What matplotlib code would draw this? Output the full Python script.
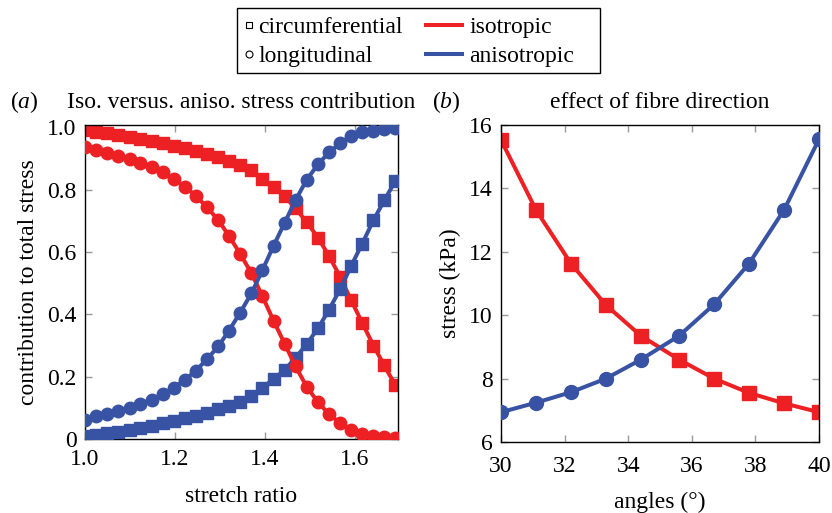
import matplotlib
matplotlib.use('Agg')
import matplotlib.pyplot as plt
from matplotlib.lines import Line2D
from matplotlib.patches import Rectangle
from matplotlib.ticker import FuncFormatter

plt.rcParams['font.family'] = ['Liberation Serif', 'DejaVu Serif']
plt.rcParams['font.size'] = 17
plt.rcParams['axes.titlesize'] = 17
plt.rcParams['mathtext.fontset'] = 'custom'
plt.rcParams['mathtext.rm'] = 'Liberation Serif'
plt.rcParams['mathtext.it'] = 'Liberation Serif:italic'

RED = '#ed2024'
BLUE = '#3953a4'

# (a) stress contribution vs stretch ratio
stretch = [1.000, 1.025, 1.049, 1.074, 1.099, 1.123, 1.148, 1.173, 1.197, 1.222,
           1.246, 1.271, 1.296, 1.320, 1.345, 1.370, 1.394, 1.419, 1.444, 1.468,
           1.493, 1.518, 1.542, 1.567, 1.591, 1.616, 1.641, 1.665, 1.690]
iso_circ = [0.991, 0.987, 0.982, 0.976, 0.970, 0.964, 0.957, 0.950, 0.942, 0.934,
            0.925, 0.915, 0.905, 0.893, 0.880, 0.863, 0.836, 0.809, 0.779, 0.740,
            0.696, 0.646, 0.588, 0.521, 0.447, 0.373, 0.300, 0.236, 0.172]
aniso_circ = [0.009, 0.013, 0.018, 0.024, 0.030, 0.036, 0.043, 0.050, 0.058, 0.066,
              0.075, 0.085, 0.095, 0.107, 0.120, 0.138, 0.165, 0.192, 0.222, 0.261,
              0.305, 0.356, 0.414, 0.481, 0.554, 0.627, 0.702, 0.766, 0.829]
iso_long = [0.938, 0.927, 0.919, 0.910, 0.899, 0.887, 0.874, 0.856, 0.835, 0.810,
            0.781, 0.744, 0.703, 0.652, 0.594, 0.532, 0.459, 0.380, 0.305, 0.233,
            0.167, 0.118, 0.080, 0.051, 0.028, 0.015, 0.010, 0.006, 0.002]
aniso_long = [0.062, 0.073, 0.081, 0.090, 0.101, 0.113, 0.126, 0.144, 0.165, 0.190,
              0.219, 0.256, 0.297, 0.348, 0.406, 0.468, 0.541, 0.620, 0.695, 0.767,
              0.833, 0.882, 0.920, 0.949, 0.972, 0.985, 0.990, 0.994, 0.998]

# (b) stress vs fibre angle
angles = [30.0, 31.1, 32.2, 33.3, 34.4, 35.6, 36.7, 37.8, 38.9, 40.0]
stress_iso = [15.53, 13.32, 11.63, 10.32, 9.35, 8.60, 8.00, 7.55, 7.22, 6.94]
stress_aniso = [6.94, 7.24, 7.57, 8.00, 8.60, 9.35, 10.34, 11.63, 13.32, 15.55]


def style_axes(ax, xpad):
    for sp in ax.spines.values():
        sp.set_linewidth(1.0)
        sp.set_color('black')
    ax.tick_params(direction='in', length=5, width=1.0, color='#999999',
                   top=True, right=True, pad=6)
    ax.tick_params(axis='x', pad=xpad)


fig = plt.figure(figsize=(8.32, 5.13), dpi=100)
axA = fig.add_axes([85 / 832, 74 / 513, 313 / 832, 314 / 513])
axB = fig.add_axes([501 / 832, 71 / 513, 318 / 832, 317 / 513])

lw = 2.9
axA.plot(stretch, iso_circ, color=RED, lw=lw, marker='s', ms=8.5, mec=RED, zorder=2)
axA.plot(stretch, aniso_circ, color=BLUE, lw=lw, marker='s', ms=8.5, mec=BLUE, zorder=3)
axA.plot(stretch, iso_long, color=RED, lw=lw, marker='o', ms=9, mec=RED, zorder=4)
axA.plot(stretch, aniso_long, color=BLUE, lw=lw, marker='o', ms=9, mec=BLUE, zorder=5)
axA.set_xlim(1.0, 1.6956)
axA.set_ylim(0, 1.008)
axA.set_xticks([1.0, 1.2, 1.4, 1.6])
axA.set_yticks([0, 0.2, 0.4, 0.6, 0.8, 1.0])
axA.xaxis.set_major_formatter(FuncFormatter(lambda v, p: f'{v:.1f}'))
axA.yaxis.set_major_formatter(FuncFormatter(lambda v, p: '0' if v == 0 else f'{v:.1f}'))
axA.set_xlabel('stretch ratio', labelpad=11)
axA.set_ylabel('contribution to total stress', labelpad=6)
axA.set_title('Iso. versus. aniso. stress contribution', pad=12)
style_axes(axA, 7.5)

axB.plot(angles, stress_iso, color=RED, lw=lw, marker='s', ms=9.5, mec=RED, zorder=2)
axB.plot(angles, stress_aniso, color=BLUE, lw=lw, marker='o', ms=10, mec=BLUE, zorder=3)
axB.set_xlim(30, 40)
axB.set_ylim(6, 16)
axB.set_xticks([30, 32, 34, 36, 38, 40])
axB.set_yticks([6, 8, 10, 12, 14, 16])
axB.set_xlabel('angles (°)', labelpad=11)
axB.set_ylabel('stress (kPa)', labelpad=6)
axB.set_title('effect of fibre direction', pad=12)
style_axes(axB, 10)

for a in (axA, axB):
    for lab in a.get_xticklabels() + a.get_yticklabels():
        lab.set_clip_on(False)

fig.text(10 / 832, 405 / 513, r'($\mathit{a}$)', ha='left', va='baseline')
fig.text(432 / 832, 405 / 513, r'($\mathit{b}$)', ha='left', va='baseline')

# legend: marker shapes in one column, colours in the other
shape_handles = [
    Line2D([], [], ls='none', marker='s', ms=5, mfc='none', mec='black', mew=0.8),
    Line2D([], [], ls='none', marker='o', ms=5, mfc='none', mec='black', mew=0.8),
]
colour_handles = [
    Line2D([], [], color=RED, lw=lw),
    Line2D([], [], color=BLUE, lw=lw),
]
legY = (513 - 42) / 513
fig.legend(shape_handles, ['circumferential', 'longitudinal'], loc='center left',
           bbox_to_anchor=(244 / 832, legY), frameon=False, borderpad=0,
           borderaxespad=0, handlelength=0.4, handletextpad=0.2, labelspacing=0.32)
fig.legend(colour_handles, ['isotropic', 'anisotropic'], loc='center left',
           bbox_to_anchor=(426 / 832, legY), frameon=False, borderpad=0,
           borderaxespad=0, handlelength=1.53, handletextpad=0.3, labelspacing=0.32)
fig.patches.append(Rectangle((237 / 832, (513 - 73) / 513), 363 / 832, 65 / 513,
                             transform=fig.transFigure, fill=False, ec='black', lw=1.0))

fig.savefig('out.png', dpi=100)
